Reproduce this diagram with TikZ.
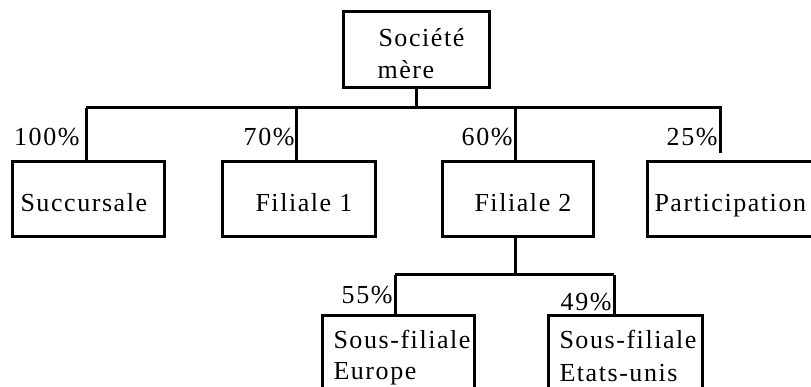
\documentclass[tikz,border=0pt]{standalone}
\usepackage{fontspec}
\setmainfont{Liberation Serif}[LetterSpace=6]
\begin{document}
\begin{tikzpicture}[x=1pt,y=-1pt,line width=3pt,
  box/.style={draw, rectangle, line width=3pt, inner sep=0pt, outer sep=0pt},
  txt/.style={anchor=base west, inner sep=0pt, font=\fontsize{26}{30}\selectfont},
  pct/.style={anchor=base east, inner sep=0pt, font=\fontsize{26}{30}\selectfont}]
\useasboundingbox (0,0) rectangle (811,387);
\clip (0,0) rectangle (811,387);
% boxes
\node[box, minimum width=146, minimum height=76] (m) at (416,50) {};
\node[box, minimum width=152, minimum height=75] (s) at (88,199.5) {};
\node[box, minimum width=153, minimum height=75] (f1) at (298.5,199.5) {};
\node[box, minimum width=151, minimum height=75] (f2) at (517.5,199.5) {};
\node[box, minimum width=168, minimum height=75] (p) at (731,199.5) {};
\node[box, minimum width=152, minimum height=80] (se) at (398,355) {};
\node[box, minimum width=154, minimum height=80] (su) at (625,355) {};
% texts
\node[txt] (tm1) at (377,47) {Société};
\node[txt] (tm2) at (376,79) {mère};
\node[txt] (ts) at (19,212) {Succursale};
\node[txt] (tf1) at (254,212) {Filiale 1};
\node[txt] (tf2) at (473,212) {Filiale 2};
\node[txt] (tp) at (653,212) {Participation};
\node[txt] (tse1) at (332,348) {Sous-filiale};
\node[txt] (tse2) at (332,379) {Europe};
\node[txt] (tsu1) at (558,348) {Sous-filiale};
\node[txt] (tsu2) at (558,381) {Etats-unis};
% percentages
\node[pct] (l1) at (81,146) {100\%};
\node[pct] (l2) at (296,146) {70\%};
\node[pct] (l3) at (514,146) {60\%};
\node[pct] (l4) at (719,146) {25\%};
\node[pct] (l5) at (394,303) {55\%};
\node[pct] (l6) at (613,311) {49\%};
% connectors
\coordinate (ja) at (86,108);
\coordinate (jb) at (296,108);
\coordinate (jc) at (515,108);
\coordinate (jd) at (720,108);
\coordinate (jdend) at (720,153);
\coordinate (kc) at (515,275);
\coordinate (ka) at (395,275);
\coordinate (kb) at (614,275);
\draw (m.south) -- (m.south |- ja);
\draw (ja) -- (jd) -- (jdend);
\draw (ja) -- (ja |- s.north);
\draw (jb) -- (jb |- f1.north);
\draw (jc) -- (jc |- f2.north);
\draw (kc |- f2.south) -- (kc);
\draw (ka) -- (kb);
\draw (ka) -- (ka |- se.north);
\draw (kb) -- (kb |- su.north);
\end{tikzpicture}
\end{document}
